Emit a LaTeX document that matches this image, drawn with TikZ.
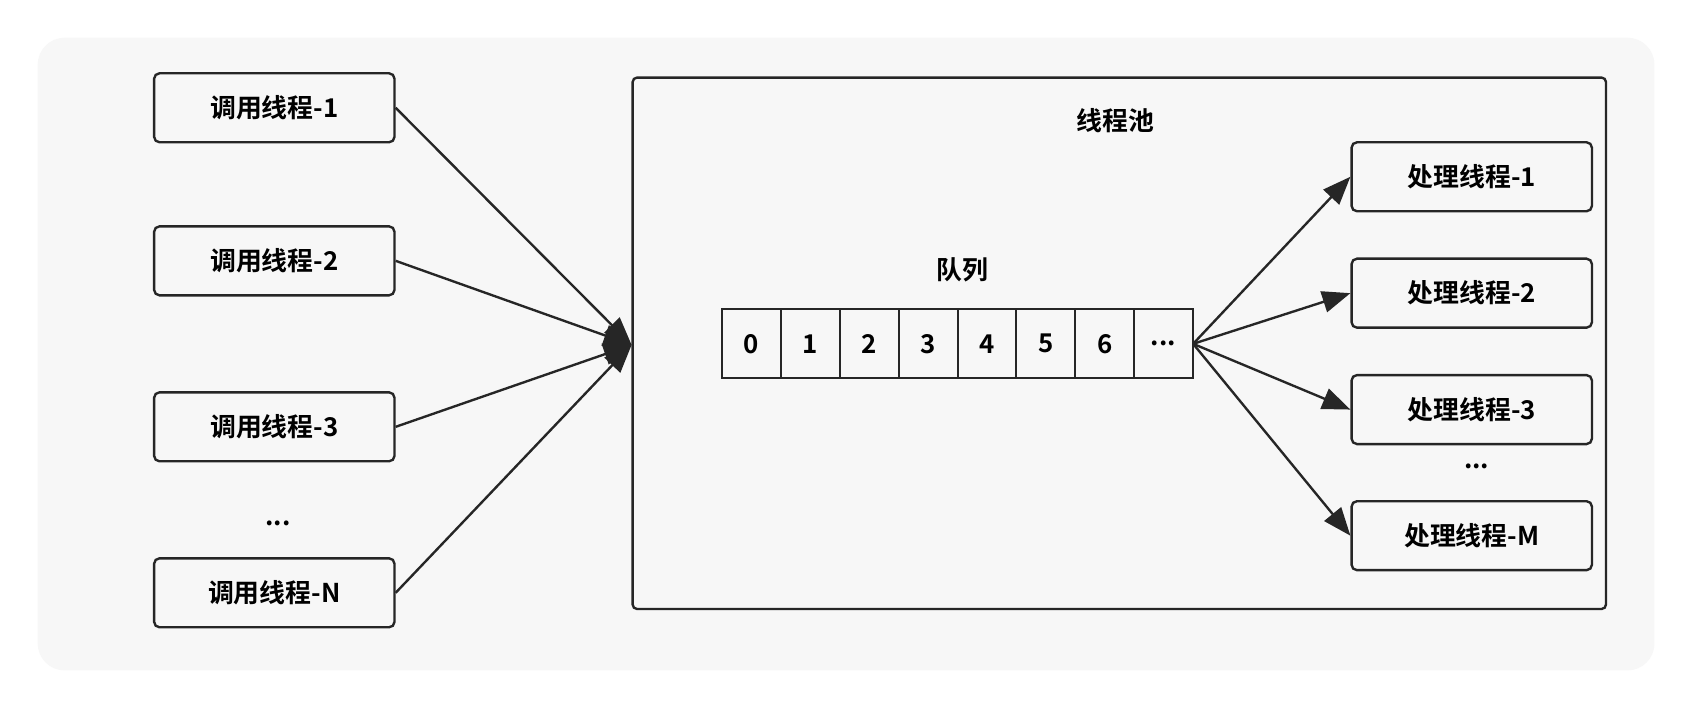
\documentclass[tikz,border=0pt]{standalone}
\usepackage{fontspec}
\setmainfont{Noto Sans CJK SC}[BoldFont={* Bold}]
\usetikzlibrary{arrows.meta}
\begin{document}
\begin{tikzpicture}[x=1pt,y=-1pt,
  box/.style={draw=black!85,line width=2.2pt,rounded corners=5pt,minimum width=223pt,minimum height=64pt,font=\fontsize{24}{27}\selectfont\bfseries,inner sep=0pt},
  cell/.style={draw=black!85,line width=1.8pt,minimum width=54.6pt,minimum height=64pt,font=\fontsize{24}{27}\selectfont\bfseries,inner sep=0pt},
  lbl/.style={font=\fontsize{24}{27}\selectfont\bfseries},
  arr/.style={line width=2.2pt,draw=black!85,-{Triangle[length=26pt,width=20pt]}}]
\useasboundingbox (0,0) rectangle (1568,657);
\fill[white] (0,0) rectangle (1568,657);
\fill[black!3,rounded corners=25pt] (35,35) rectangle (1535,622);
\draw[black!85,line width=2.2pt,rounded corners=4pt] (587,72) rectangle (1490,565);
\node[lbl] (pool) at (1035,112) {线程池};
\node[lbl] (q) at (893,250) {队列};
\node[box] (c1) at (254.5,100) {调用线程-1};
\node[box] (c2) at (254.5,242) {调用线程-2};
\node[box] (c3) at (254.5,396) {调用线程-3};
\node[lbl] (cd) at (258,486) {...};
\node[box] (cn) at (254.5,550) {调用线程-N};
\foreach \i in {0,1,2,3,4,5,6}
  \node[cell] (q\i) at ({670+27.3+54.6*\i},319) {\i};
\node[cell] (q7) at ({670+27.3+54.6*7},319) {...};
\coordinate (in) at (586,320);
\coordinate (out) at (1107,319);
\node[box] (p1) at (1365.5,164) {处理线程-1};
\node[box] (p2) at (1365.5,272) {处理线程-2};
\node[box] (p3) at (1365.5,380) {处理线程-3};
\node[lbl] (pd) at (1370,433) {...};
\node[box] (pm) at (1365.5,497) {处理线程-M};
\foreach \n in {c1,c2,c3,cn} \draw[arr] (\n.east) -- (in);
\foreach \n in {p1,p2,p3,pm} \draw[arr] (out) -- (\n.west);
\end{tikzpicture}
\end{document}
